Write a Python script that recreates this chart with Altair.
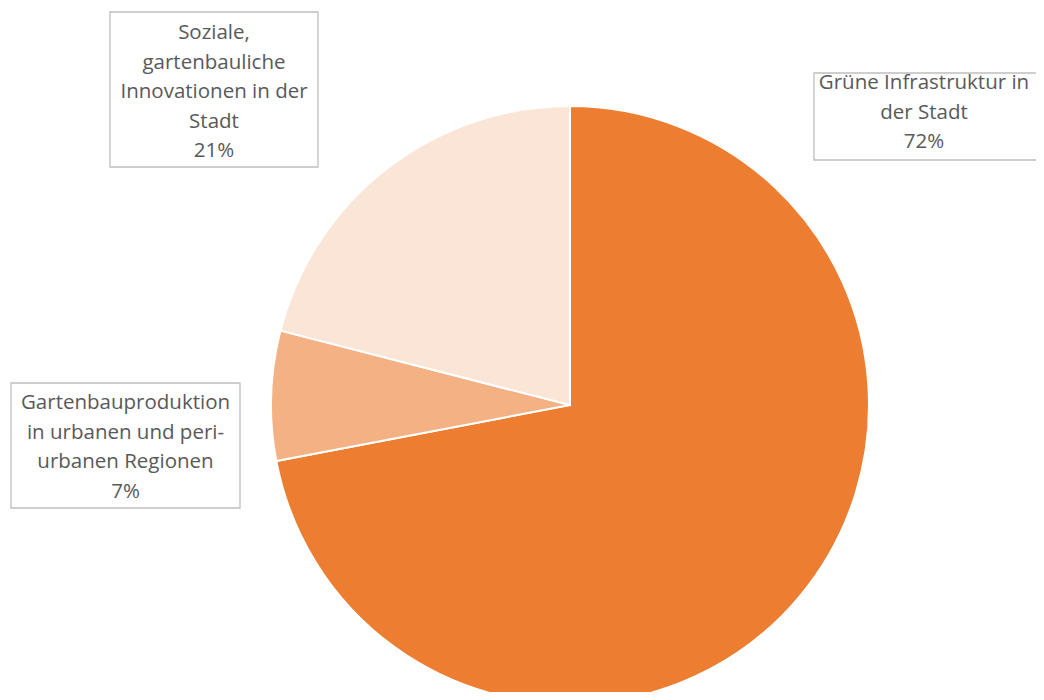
import altair as alt
import pandas as pd

# --- data ---
categories = [
    "Grüne Infrastruktur in der Stadt",
    "Gartenbauproduktion in urbanen und peri-urbanen Regionen",
    "Soziale, gartenbauliche Innovationen in der Stadt",
]
shares = [72, 7, 21]
slice_order = [1, 2, 3]
colors = ["#ED7D31", "#F4B183", "#FBE5D6"]

label_lines = [
    ["Grüne Infrastruktur in", "der Stadt", "72%"],
    ["Gartenbauproduktion", "in urbanen und peri-", "urbanen Regionen", "7%"],
    ["Soziale,", "gartenbauliche", "Innovationen in der", "Stadt", "21%"],
]

# --- layout (pixels) ---
W, H = 1028, 684
CX, CY, R = 562, 397, 299
box_x = [806, 3, 102]
box_x2 = [1060, 232, 310]
box_y = [65, 375, 4]
box_y2 = [152, 500, 159]
text_x = [916, 117.5, 206]
text_y = [75, 395, 25]

pie_df = pd.DataFrame({"cat": categories, "share": shares, "ord": slice_order})
lab_df = pd.DataFrame({
    "cat": categories,
    "text": [l for l in label_lines],
    "x": box_x, "x2": box_x2, "y": box_y, "y2": box_y2,
    "tx": text_x, "ty": text_y,
})

pie = alt.Chart(pie_df).mark_arc(
    outerRadius=R, stroke="white", strokeWidth=2
).encode(
    theta=alt.Theta("share:Q", stack=True),
    order=alt.Order("ord:Q"),
    color=alt.Color("cat:N", scale=alt.Scale(domain=categories, range=colors), legend=None),
    x=alt.value(CX),
    y=alt.value(CY),
)

boxes = alt.Chart(lab_df).mark_rect(
    fill="white", stroke="#BFBFBF", strokeWidth=1.3
).encode(
    x=alt.X("x:Q", scale=None, axis=None),
    x2="x2:Q",
    y=alt.Y("y:Q", scale=None, axis=None),
    y2="y2:Q",
)

texts = alt.Chart(lab_df).mark_text(
    font="Open Sans", fontSize=20.5, color="#595959", align="center",
    baseline="middle", lineHeight=29.5
).encode(
    x=alt.X("tx:Q", scale=None, axis=None),
    y=alt.Y("ty:Q", scale=None, axis=None),
    text="text",
)

chart = alt.layer(pie, boxes, texts).properties(
    width=W, height=H,
    autosize=alt.AutoSizeParams(type="none"),
    padding=0,
).configure_view(stroke=None)

chart.save("out.html", embed_options={"renderer": "svg", "actions": False})
